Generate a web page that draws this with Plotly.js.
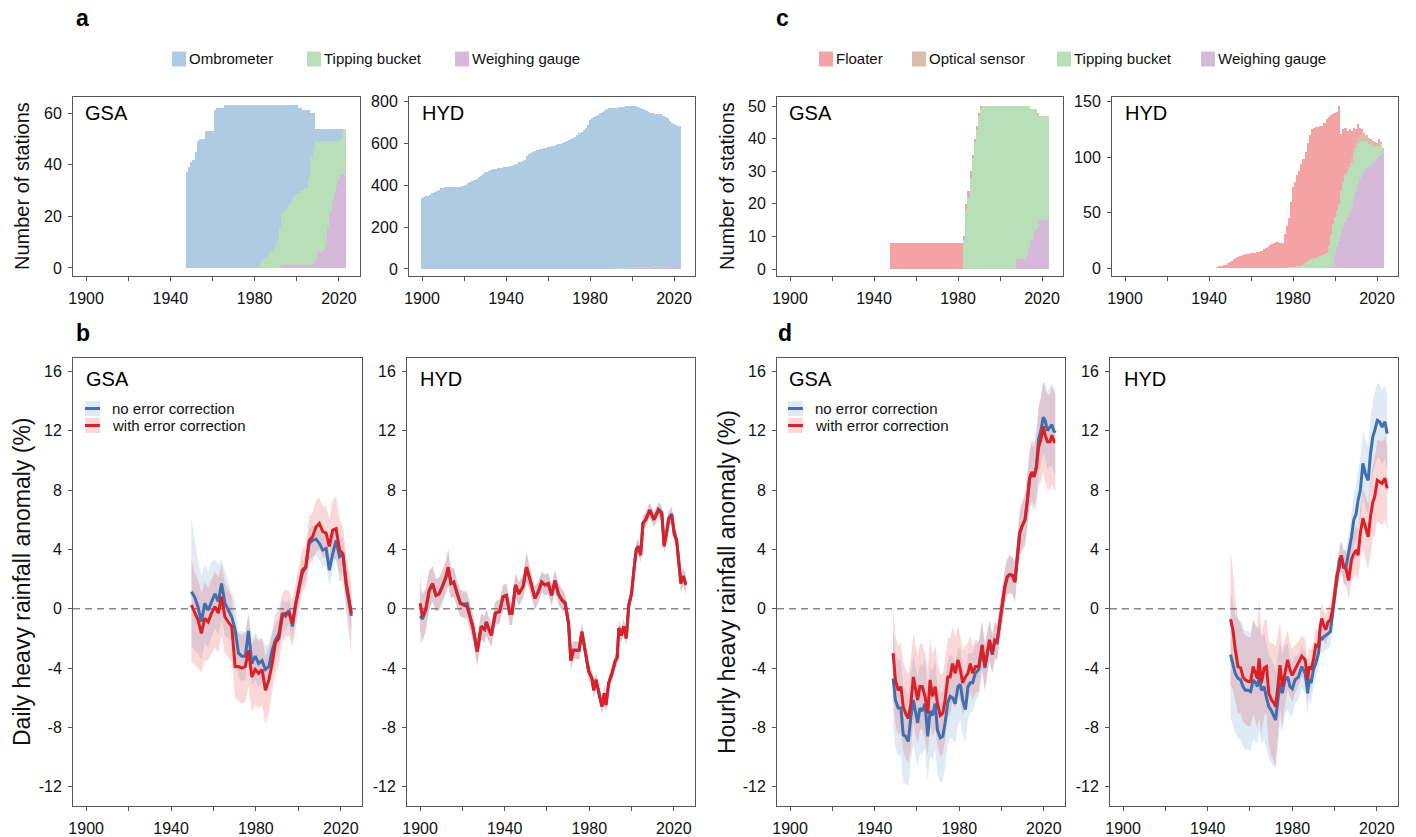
<!DOCTYPE html>
<html><head><meta charset="utf-8">
<script src="https://cdn.plot.ly/plotly-3.0.1.min.js"></script>
<style>html,body{margin:0;padding:0;background:#fff;}#chart{width:1416px;height:837px;}</style>
</head><body><div id="chart"></div>
<script>
// ---------------- DATA: station counts (panels a, c) ----------------
// a GSA (start years given separately)
const aGsaOmbStart = 1948;
const aGsaOmb = [37,39,41,42,45,49,50,50,50,53, 53,53,53,61,62,62,62,62,63,63,
  63,63,63,63,63,63,63,63,63,63, 63,63,63,63,62,61,60,59,59,58,
  57,56,54,52,47,42,41,40,39,38, 36,35,34,33,32,31,30,30,26,17,
  14,5,5,5,5,5,5,5,5,5, 5,5,5,4,0,0];
const aGsaTipStart = 1982;
const aGsaTip = [1,2,3,4,4,5,6,7,9,11, 16,20,21,22,23,24,26,27,28,28,
  29,29,30,30,34,42,44,46,43,43, 43,42,39,33,27,23,20,17,15,14, 18,18];
const aGsaWeighStart = 1993;
const aGsaWeigh = [1,1,1,1,1,1,1,1,1,1,1,1,1,1,1, 2,3,6,6,6,7,10,16,22,26,29,32,34,36,36,36];

// a HYD
const aHydOmbStart = 1900;
const aHydOmb = [340,343,348,350,352,365,368,372,380,386,
  389,390,391,392,392,392,392,393,394,396,
  398,402,410,414,420,426,432,438,445,455,
  462,466,470,474,477,479,482,484,485,487,
  489,490,491,492,495,502,510,514,518,520,
  540,548,556,561,566,570,573,576,578,580,
  582,584,587,590,593,596,600,604,608,612,
  617,622,628,633,640,648,656,665,674,688,
  712,720,726,730,738,743,750,758,763,766,
  766,767,768,769,771,773,774,775,775,776,
  771,771,770,766,762,757,752,748,742,738,
  732,730,729,728,727,722,710,704,692,684,
  676,672,670,668];
const aHydTipStart = 1985;
const aHydTip = [2,2,2,2,2,2,2,2,2,2,2,2,2,2,2, 4,4,4,4,4,4,4,4,4,4,4,4,4,4,4,4,4,4,4,4,4,4,4,4];
const aHydWeighStart = 1990;
const aHydWeigh = [1,1,1,1,1,1,1,1,1,1, 4,4,4,4,4,4,4,4,4,4, 8,8,8,8,8,8, 12,12,12,12,12,12,12,12];

// c GSA
const cGsaFloatStart = 1948;
const cGsaFloat = [8,8,8,8,8,8,8,8,8,8, 8,8,8,8,8,8,8,8,8,8, 8,8,8,8,8,8,8,8,8,8, 8,8,8,8,8, 1,2,2,2,1,1,1,1,1];
const cGsaTipStart = 1983;
const cGsaTip = [9,18,22,28,34,39,43,47,49, 50,50,50,50,50,50,50,50,50,50,50,50,50,50,50,50,
  47,47,47,47,47,46,44,40,38,37, 35,32,32,32,32,32];
const cGsaWeighStart = 2008;
const cGsaWeigh = [3,3,3,3,3,4,6,9,11,12,13,15,15,15,15,15];

// c HYD
const cHydFloatStart = 1944;
const cHydFloat = [1,2,2,3,3,5,6,7,8,9, 10,11,12,13,13,13,14,14,14,15,
  15,16,17,18,19,21,22,23,24,24, 23,23,31,38,44,59,72,77,82,86,
  92,95,99,106,112,117,117,118,117,117, 116,118,120,116,108,99,94,89,88,51,
  46,40,33,30,24,18,11,12,6,4, 2,0,0,1,1,1,1,3,0,0];
const cHydTipStart = 1978;
const cHydTip = [1,1,1,1,2,2,2,3,6,7, 8,8,9,9,10,11,12,13,14,19,
  28,37,34,33,33,39,41,42,42,41, 39,40,39,37,34,31,28,25,20,18, 16,13,11,9,10,3];
const cHydWeighStart = 1997;
const cHydWeigh = [1,2,3,12,19,25,31,37,42,46, 50,56,63,69,75,80,84,87,90,92, 93,94,96,98,101,102,103];
const cHydOptStart = 2004;
const cHydOpt = [1,2,3,4,5,5,6,6,6,6,5,5,5,4,4,4,3,3,2,2];

// ---------------- DATA: anomalies (panels b, d) ----------------
// b GSA daily
const bGsaX = [1949.6,1951.1,1952.7,1954.3,1955.9,1957.5,1959.1,1960.7,1962.3,1963.8,
  1965.4,1967.0,1968.6,1970.2,1971.8,1973.4,1975.0,1976.5,1978.1,1979.7,
  1981.3,1982.9,1984.5,1986.1,1987.7,1989.2,1990.8,1992.4,1994.0,1995.6,
  1997.2,1998.8,2000.4,2001.9,2003.5,2005.1,2006.7,2008.3,2009.9,2011.5,
  2013.1,2014.6,2016.2,2017.8,2019.4,2021.0,2022.6,2025.0];
const bGsaNo = [1.14,0.8,0.13,-0.9,0.36,-0.1,0.47,1.0,0.47,1.7,
  0.36,-0.1,-0.54,-1.4,-3.0,-3.2,-3.2,-1.5,-3.7,-3.2,
  -3.7,-3.5,-4.1,-3.9,-2.8,-2.1,-1.7,-0.3,-0.5,-0.1,
  -1.2,0.36,1.5,2.4,2.8,4.4,4.6,4.7,4.4,3.95,
  4.06,2.6,3.7,4.6,3.5,3.7,1.5,-0.5];
const bGsaWith = [0.25,-0.3,-0.76,-1.66,-0.65,-0.9,-0.3,0.13,-0.3,0.8,
  -0.54,-0.9,-1.2,-3.9,-3.9,-4.0,-3.9,-2.8,-4.6,-4.1,
  -4.35,-4.1,-5.5,-4.8,-3.7,-2.3,-2.0,-0.54,-0.3,-0.3,
  -1.0,0.36,1.5,2.6,2.8,4.6,4.85,5.5,5.75,5.2,
  5.1,4.2,5.3,5.4,3.95,3.7,1.7,-0.3];
const bGsaNoUp = [6.0,4.5,3.2,2.2,3.0,2.5,3.2,3.3,3.0,3.3, 2.5,1.8,1.0,0.5,-1.5,-1.5,-1.6,-0.2,-2.0,-1.6,
  -2.0,-2.0,-2.5,-2.4,-1.5,-1.0,-0.7,0.6,0.4,0.6, -0.4,1.2,2.3,3.2,3.7,5.4,5.6,5.7,5.4,5.0,
  5.1,3.7,4.8,5.7,4.6,4.8,2.6,0.6];
const bGsaNoLo = [-2.5,-2.8,-3.0,-3.5,-2.3,-2.6,-2.0,-1.3,-1.8,-0.6, -1.8,-2.0,-2.2,-3.2,-4.6,-4.9,-4.8,-3.0,-5.2,-4.8,
  -5.3,-5.0,-5.6,-5.4,-4.2,-3.3,-2.8,-1.3,-1.5,-1.0, -2.1,-0.6,0.6,1.5,1.9,3.3,3.5,3.6,3.3,2.8,
  2.9,1.5,2.6,3.4,2.3,2.5,0.3,-1.7];
const bGsaWithUp = [3.3,2.4,2.0,1.0,1.8,1.4,2.0,2.5,2.1,3.0, 1.7,1.2,0.8,-1.4,-1.6,-1.8,-1.6,-0.5,-2.4,-1.9,
  -2.2,-2.0,-3.2,-2.6,-1.6,-0.4,-0.1,1.0,1.3,1.2, 0.6,1.9,3.0,4.0,4.3,6.2,6.5,7.3,7.5,6.9,
  6.9,6.0,7.3,7.6,6.0,5.6,3.5,1.7];
const bGsaWithLo = [-3.6,-3.8,-4.0,-4.3,-3.5,-3.5,-3.0,-2.6,-3.0,-1.8, -3.0,-3.3,-3.6,-6.0,-6.2,-6.4,-6.3,-5.2,-7.0,-6.5,
  -6.7,-6.5,-7.8,-7.0,-5.6,-4.3,-3.8,-2.2,-1.9,-1.8, -2.6,-1.2,0.0,1.2,1.4,3.0,3.2,3.8,4.0,3.5,
  3.4,2.4,3.4,3.3,1.9,1.8,-0.3,-3.0];

// b HYD daily
const bHydX = [1900.0,1901.1,1902.7,1904.3,1905.9,1907.5,1909.0,1910.6,1912.2,1913.3,
  1914.6,1915.9,1917.5,1919.0,1920.6,1922.2,1923.8,1924.9,1927.0,1928.9,
  1930.5,1931.3,1932.9,1933.7,1935.6,1937.6,1939.2,1940.8,1942.4,1943.5,
  1945.1,1946.7,1948.7,1950.3,1951.9,1954.3,1955.9,1957.5,1959.0,1960.6,
  1962.2,1963.8,1965.4,1967.0,1968.6,1970.2,1971.3,1972.5,1974.1,1975.2,
  1976.5,1978.1,1979.7,1981.3,1982.1,1983.2,1984.4,1986.0,1987.1,1987.9,
  1989.2,1990.8,1992.1,1993.2,1994.0,1995.2,1996.3,1997.5,1998.7,2000.0,
  2001.1,2002.2,2003.2,2004.3,2005.4,2006.7,2008.6,2010.6,2012.7,2014.3,
  2015.4,2016.5,2017.5,2019.0,2020.2,2021.3,2022.2,2023.3,2024.4,2025.7];
const bHydNo = [-0.5,-0.7,-0.1,1.2,1.65,0.9,1.0,1.5,2.1,2.75,
  1.7,1.8,1.0,0.4,0.3,0.35,-0.6,-1.2,-2.85,-1.2,
  -1.4,-0.9,-1.5,-1.75,-0.3,-0.2,0.8,0.9,-0.3,-0.3,
  1.6,1.0,1.5,2.8,2.0,0.7,1.15,1.8,1.6,1.7,
  0.9,1.9,1.0,0.6,0.4,-1.0,-3.5,-2.8,-2.8,-2.8,
  -1.55,-3.0,-4.2,-4.7,-5.5,-4.8,-5.5,-6.6,-5.7,-6.5,
  -5.0,-4.35,-3.6,-3.3,-1.3,-1.8,-1.2,-2.0,0.25,1.0,
  2.6,4.0,4.2,3.7,5.8,6.0,6.65,6.0,6.7,6.5,
  4.3,5.1,6.1,6.4,5.1,4.7,3.4,1.8,2.2,1.7];
const bHydWith = [0.36,-0.54,0,1.26,1.7,0.9,1.0,1.5,2.15,2.8,
  1.7,1.8,1.0,0.36,0.25,0.13,-0.65,-1.2,-2.9,-1.2,
  -1.4,-0.9,-1.55,-1.8,-0.3,-0.2,0.8,0.9,-0.3,-0.3,
  1.6,1.0,1.5,2.8,2.0,0.7,1.15,1.8,1.6,1.7,
  0.9,1.9,1.0,0.6,0.36,-1.0,-3.5,-2.8,-2.8,-2.8,
  -1.55,-3.0,-4.2,-4.7,-5.5,-4.8,-5.5,-6.6,-5.7,-6.5,
  -5.0,-4.35,-3.6,-3.3,-1.3,-1.8,-1.2,-2.0,0.25,1.0,
  2.6,3.95,4.2,3.6,5.75,6.0,6.65,6.0,6.65,6.4,
  4.2,5.0,6.0,6.3,5.0,4.6,3.3,1.7,2.15,1.6];
const bHydSpread = [1.8,1.6,1.4,1.3,1.2,1.1,1.1,1.1,1.1,1.2,
  1.0,1.0,0.9,0.9,0.9,0.9,0.9,0.9,1.0,0.9,
  0.9,0.9,0.8,0.8,0.8,0.8,0.8,0.8,0.8,0.8,
  0.8,0.8,0.8,1.0,0.8,0.8,0.7,0.7,0.7,0.7,
  0.7,0.7,0.7,0.7,0.6,0.6,0.6,0.6,0.6,0.6,
  0.6,0.6,0.6,0.5,0.5,0.5,0.5,0.5,0.5,0.5,
  0.5,0.5,0.5,0.5,0.5,0.5,0.5,0.5,0.5,0.5,
  0.5,0.5,0.5,0.5,0.5,0.5,0.5,0.5,0.5,0.5,
  0.5,0.5,0.5,0.5,0.5,0.5,0.6,0.6,0.6,0.7];

// d GSA hourly
const dGsaX = [1948.7,1949.8,1951.1,1952.4,1953.5,1954.6,1955.9,1957.1,1958.3,1959.4,
  1960.3,1961.4,1962.5,1963.8,1965.1,1966.2,1967.3,1968.6,1969.7,1971.0,
  1972.2,1973.3,1974.6,1975.7,1976.8,1978.1,1979.4,1980.5,1981.6,1982.9,
  1984.1,1985.2,1986.3,1987.6,1989.2,1990.8,1992.1,1993.2,1994.3,1995.6,
  1996.8,1997.9,1999.0,2000.3,2001.6,2002.7,2003.8,2005.1,2006.3,2007.5,
  2008.6,2009.8,2011.1,2012.2,2013.3,2014.3,2015.4,2016.5,2017.5,2018.6,
  2019.7,2020.6,2021.7,2022.9,2023.8,2024.9,2025.4];
const dGsaNo = [-4.7,-6.15,-6.7,-6.7,-8.5,-8.6,-8.95,-7.3,-6.15,-7.0,
  -7.7,-6.7,-6.9,-6.4,-8.6,-6.9,-7.2,-6.4,-8.2,-8.7,
  -8.6,-7.7,-6.3,-5.9,-6.0,-6.4,-5.25,-5.1,-6.15,-6.8,
  -5.25,-5.0,-5.0,-4.35,-4.1,-2.6,-4.0,-3.1,-2.2,-3.1,
  -2.2,-2.3,-1.3,0.2,1.5,2.15,2.3,2.25,1.8,3.7,
  5.1,5.6,6.0,7.3,8.8,9.2,8.9,9.6,11.4,12.0,
  12.9,12.7,12.0,12.25,12.4,11.9,12.0];
const dGsaWith = [-3.0,-4.8,-5.5,-5.25,-6.6,-7.05,-7.4,-6.4,-4.6,-5.5,
  -6.15,-5.25,-5.25,-5.9,-7.05,-4.8,-5.9,-5.25,-6.4,-7.2,
  -7.05,-6.15,-4.6,-4.6,-3.7,-4.35,-3.45,-4.1,-5.0,-4.6,
  -4.35,-3.7,-4.35,-3.9,-3.9,-2.45,-3.9,-3.0,-2.1,-3.0,
  -2.1,-2.2,-1.2,0.25,1.5,2.15,2.3,2.25,1.8,3.7,
  5.1,5.6,6.0,7.3,8.8,9.2,8.9,9.55,10.9,11.4,
  12.3,11.7,11.25,11.25,11.7,11.25,11.25];
const dGsaNoSpread = [3.2,3.2,3.2,3.2,3.2,3.2,3.0,3.0,3.0,3.0,
  3.0,3.0,3.0,3.0,3.0,3.0,3.0,3.0,3.0,3.0,
  3.0,3.0,2.8,2.8,2.8,2.6,2.6,2.4,2.4,2.2,
  2.2,2.0,2.0,1.9,1.8,1.7,1.6,1.5,1.4,1.3,
  1.3,1.2,1.2,1.2,1.2,1.2,1.2,1.2,1.3,1.4,
  1.4,1.5,1.6,1.7,1.8,1.9,2.0,2.1,2.2,2.3,
  2.4,2.5,2.6,2.7,2.8,2.9,3.0];
const dGsaWithSpread = [3.0,3.0,3.0,3.0,3.0,3.0,3.0,3.0,3.0,3.0,
  2.9,2.9,2.9,2.9,2.9,2.9,2.8,2.8,2.8,2.8,
  2.7,2.7,2.6,2.6,2.5,2.4,2.3,2.2,2.2,2.1,
  2.0,1.9,1.8,1.8,1.7,1.6,1.5,1.4,1.3,1.3,
  1.2,1.2,1.2,1.2,1.2,1.2,1.3,1.3,1.4,1.5,
  1.6,1.7,1.8,1.9,2.0,2.2,2.3,2.5,2.6,2.8,
  3.0,3.1,3.2,3.2,3.3,3.3,3.3];

// d HYD hourly
const dHydX = [1950.8,1951.9,1953.0,1954.3,1955.6,1956.7,1957.8,1959.1,1960.3,1961.5,
  1962.6,1963.5,1964.3,1965.4,1966.7,1967.8,1968.9,1970.2,1971.5,1972.1,
  1973.0,1974.2,1975.3,1976.5,1977.8,1978.9,1980.0,1981.3,1982.9,1984.5,
  1986.1,1987.3,1987.9,1988.9,1990.0,1991.1,1992.4,1993.2,1994.0,1994.8,
  1995.9,1996.9,1998.0,1999.1,2000.0,2001.1,2002.3,2003.2,2004.3,2005.4,
  2006.7,2008.0,2009.1,2010.2,2011.1,2012.2,2013.4,2014.6,2015.9,2017.0,
  2018.1,2019.0,2020.2,2021.3,2022.5,2023.8,2024.9];
const dHydNo = [-3.1,-3.7,-4.35,-4.7,-4.8,-5.25,-5.5,-5.5,-5.6,-4.8,
  -5.0,-5.25,-4.6,-5.5,-5.25,-6.0,-6.6,-6.9,-7.3,-7.5,
  -6.4,-5.0,-5.7,-4.8,-4.6,-5.25,-5.4,-4.8,-4.6,-3.9,
  -4.35,-5.7,-4.8,-5.0,-4.1,-3.7,-3.0,-1.9,-2.1,-1.9,
  -1.8,-1.66,-1.55,-0.3,0.8,2.15,3.3,3.5,2.8,2.8,
  3.7,4.85,6.0,6.4,7.3,8.0,9.8,9.1,8.65,10.45,
  11.6,12.0,12.7,12.6,12.25,12.6,11.8];
const dHydWith = [-0.7,-1.4,-2.7,-3.9,-4.0,-4.6,-4.8,-4.9,-4.9,-3.9,
  -4.35,-4.7,-3.35,-5.0,-4.0,-3.9,-5.7,-6.15,-6.4,-6.6,
  -5.5,-3.8,-5.25,-4.35,-3.45,-4.1,-4.5,-4.1,-3.7,-3.2,
  -3.45,-4.8,-3.9,-4.1,-3.45,-2.45,-2.55,-1.2,-0.65,-1.1,
  -1.4,-0.9,-0.76,0,1.0,2.25,2.8,3.6,2.8,2.7,
  1.9,3.3,3.7,3.95,3.6,5.1,6.1,5.5,4.85,6.2,
  7.2,7.55,8.65,8.55,8.45,8.8,8.1];
const dHydNoSpread = [4.2,4.2,4.0,4.0,4.0,4.0,4.0,4.0,4.0,4.0,
  4.0,3.8,3.6,3.6,3.6,3.5,3.5,3.5,3.4,3.2,
  3.0,2.8,2.6,2.4,2.2,2.0,1.8,1.6,1.5,1.4,
  1.4,1.4,1.3,1.3,1.2,1.1,1.0,1.0,1.0,1.0,
  1.0,1.0,1.0,1.0,1.0,1.0,1.0,1.0,1.1,1.2,
  1.3,1.5,1.7,1.9,2.0,2.1,2.2,2.3,2.3,2.4,
  2.4,2.5,2.5,2.5,2.5,2.5,2.5];
const dHydWithSpread = [4.5,4.0,3.5,3.2,3.0,3.0,3.0,3.0,3.0,3.2,
  3.2,3.4,4.0,3.4,3.2,3.2,3.5,3.8,4.0,4.0,
  3.5,3.0,2.6,2.2,2.0,1.8,1.8,1.6,1.5,1.4,
  1.4,1.4,1.3,1.3,1.2,1.1,1.0,1.0,1.0,1.0,
  1.0,1.0,1.0,1.0,1.0,1.0,1.0,1.0,1.1,1.2,
  1.3,1.4,1.5,1.6,1.7,1.8,2.0,2.1,2.2,2.4,
  2.5,2.6,2.7,2.8,2.8,2.8,2.8];

// ---------------- labels / ticks ----------------
const xTickVals = [1900,1920,1940,1960,1980,2000,2020];
const xTickText = ['1900','','1940','','1980','','2020'];
const anomTickVals = [-12,-8,-4,0,4,8,12,16];
const anomTickText = ['-12','-8','-4','0','4','8','12','16'];
const legendA = ['Ombrometer','Tipping bucket','Weighing gauge'];
const legendC = ['Floater','Optical sensor','Tipping bucket','Weighing gauge'];
const seriesNames = ['no error correction','with error correction'];

// ---------------- styling ----------------
const W = 1416, H = 837;
const C = {omb:'#afcbe3', tip:'#b8dfb7', weigh:'#d6b8da', flo:'#f4a3a4', opt:'#dbbba9',
  lineBlue:'#3f6fae', lineRed:'#dd1f26', bandBlue:'rgba(55,126,184,0.16)', bandRed:'rgba(228,26,28,0.17)'};
const FONT = '"Liberation Sans", Arial, Helvetica, sans-serif';
const PX = x => x / W, PY = y => 1 - y / H;

function yrs(start, n){ const a=[]; for(let i=0;i<n;i++) a.push(start+i); return a; }

const traces = [];
function bars(start, vals, color, ax){
  traces.push({type:'bar', x: yrs(start, vals.length), y: vals, width: 1,
    marker:{color: color, line:{width:0}}, xaxis:'x'+ax, yaxis:'y'+ax, hoverinfo:'skip', showlegend:false});
}
// panel a
bars(aGsaWeighStart, aGsaWeigh, C.weigh, ''); bars(aGsaTipStart, aGsaTip, C.tip, ''); bars(aGsaOmbStart, aGsaOmb, C.omb, '');
bars(aHydWeighStart, aHydWeigh, C.weigh, '2'); bars(aHydTipStart, aHydTip, C.tip, '2'); bars(aHydOmbStart, aHydOmb, C.omb, '2');
// panel c
bars(cGsaWeighStart, cGsaWeigh, C.weigh, '3'); bars(cGsaTipStart, cGsaTip, C.tip, '3'); bars(cGsaFloatStart, cGsaFloat, C.flo, '3');
bars(cHydWeighStart, cHydWeigh, C.weigh, '4'); bars(cHydTipStart, cHydTip, C.tip, '4'); bars(cHydOptStart, cHydOpt, C.opt, '4'); bars(cHydFloatStart, cHydFloat, C.flo, '4');

function band(xs, lo, hi, color, ax){
  traces.push({type:'scatter', mode:'lines', x: xs.concat(xs.slice().reverse()), y: hi.concat(lo.slice().reverse()),
    fill:'toself', fillcolor: color, line:{width:0}, xaxis:'x'+ax, yaxis:'y'+ax, hoverinfo:'skip', showlegend:false});
}
function line(xs, ys, color, ax){
  traces.push({type:'scatter', mode:'lines', x: xs, y: ys, line:{color: color, width: 3},
    xaxis:'x'+ax, yaxis:'y'+ax, hoverinfo:'skip', showlegend:false});
}
const plus = (v, s) => v.map((d,i)=>d + s[i]);
const minus = (v, s) => v.map((d,i)=>d - s[i]);

band(bGsaX, bGsaNoLo, bGsaNoUp, C.bandBlue, '5');
band(bGsaX, bGsaWithLo, bGsaWithUp, C.bandRed, '5');
line(bGsaX, bGsaNo, C.lineBlue, '5'); line(bGsaX, bGsaWith, C.lineRed, '5');

band(bHydX, minus(bHydNo,bHydSpread), plus(bHydNo,bHydSpread), C.bandBlue, '6');
band(bHydX, minus(bHydWith,bHydSpread), plus(bHydWith,bHydSpread), C.bandRed, '6');
line(bHydX, bHydNo, C.lineBlue, '6'); line(bHydX, bHydWith, C.lineRed, '6');

band(dGsaX, minus(dGsaNo,dGsaNoSpread), plus(dGsaNo,dGsaNoSpread), C.bandBlue, '7');
band(dGsaX, minus(dGsaWith,dGsaWithSpread), plus(dGsaWith,dGsaWithSpread), C.bandRed, '7');
line(dGsaX, dGsaNo, C.lineBlue, '7'); line(dGsaX, dGsaWith, C.lineRed, '7');

band(dHydX, minus(dHydNo,dHydNoSpread), plus(dHydNo,dHydNoSpread), C.bandBlue, '8');
band(dHydX, minus(dHydWith,dHydWithSpread), plus(dHydWith,dHydWithSpread), C.bandRed, '8');
line(dHydX, dHydNo, C.lineBlue, '8'); line(dHydX, dHydWith, C.lineRed, '8');

// ---------------- layout ----------------
const panels = [
  {x:[73,360], y:[97,276], r:[-3.1,66.2], tv:[0,20,40,60]},
  {x:[409,695], y:[97,276], r:[-33.5,822.5], tv:[0,200,400,600,800]},
  {x:[777,1063], y:[97,276], r:[-2.15,52.8], tv:[0,10,20,30,40,50]},
  {x:[1112,1398], y:[97,276], r:[-6.9,154.2], tv:[0,50,100,150]},
  {x:[73,362], y:[358,806], r:[-13.3,16.9], tv:anomTickVals, tt:anomTickText},
  {x:[407,695], y:[358,806], r:[-13.3,16.9], tv:anomTickVals, tt:anomTickText},
  {x:[777,1065], y:[358,806], r:[-13.3,16.9], tv:anomTickVals, tt:anomTickText},
  {x:[1110,1398], y:[358,806], r:[-13.3,16.9], tv:anomTickVals, tt:anomTickText}
];
const layout = {width:W, height:H, margin:{l:0,r:0,t:0,b:0}, paper_bgcolor:'#fff', plot_bgcolor:'#fff',
  showlegend:false, barmode:'stack', bargap:0, font:{family:FONT, color:'#111'},
  annotations:[], shapes:[]};
const axCommon = {showline:true, mirror:true, linecolor:'#555', linewidth:1, ticks:'outside', ticklen:4,
  tickcolor:'#555', tickwidth:1, showgrid:false, zeroline:false, tickfont:{size:16, color:'#111', family:FONT}, fixedrange:true};
panels.forEach((p,i)=>{
  const k = i===0 ? '' : String(i+1);
  layout['xaxis'+k] = Object.assign({}, axCommon, {domain:[PX(p.x[0]),PX(p.x[1])], range:[1893.8,2030],
    tickmode:'array', tickvals:xTickVals, ticktext:xTickText, anchor:'y'+k, ticklabelstandoff:4});
  const ya = Object.assign({}, axCommon, {domain:[PY(p.y[1]),PY(p.y[0])], range:p.r,
    tickmode:'array', tickvals:p.tv, anchor:'x'+k, ticklabelstandoff:3});
  if (p.tt) ya.ticktext = p.tt;
  layout['yaxis'+k] = ya;
  if (i>=4) {
    layout.shapes.push({type:'line', xref:'x'+k+' domain', yref:'y'+k, x0:0, x1:1, y0:0, y1:0,
      line:{color:'#888', width:1.5, dash:'7px,5px'}, layer:'below'});
  }
});

function ann(text, x, y, opts){
  layout.annotations.push(Object.assign({text:text, x:PX(x), y:PY(y), xref:'paper', yref:'paper',
    showarrow:false, xanchor:'left', yanchor:'middle', font:{size:15, family:FONT, color:'#111'}}, opts||{}));
}
// panel letters
ann('<b>a</b>', 74, 18, {font:{size:23, family:FONT, color:'#000'}});
ann('<b>c</b>', 774, 18, {font:{size:23, family:FONT, color:'#000'}});
ann('<b>b</b>', 74, 333, {font:{size:23, family:FONT, color:'#000'}});
ann('<b>d</b>', 776, 333, {font:{size:23, family:FONT, color:'#000'}});
// region names
const nameFont = {size:20, family:FONT, color:'#000'};
ann('GSA', 83, 113, {font:nameFont}); ann('HYD', 420, 113, {font:nameFont});
ann('GSA', 787, 113, {font:nameFont}); ann('HYD', 1123, 113, {font:nameFont});
ann('GSA', 84, 379, {font:nameFont}); ann('HYD', 418, 379, {font:nameFont});
ann('GSA', 787, 379, {font:nameFont}); ann('HYD', 1122, 379, {font:nameFont});
// axis titles
const tFontTop = {size:20, family:FONT, color:'#111'};
const tFontBot = {size:23, family:FONT, color:'#111'};
ann('Number of stations', 22, 186, {textangle:-90, xanchor:'center', font:tFontTop});
ann('Number of stations', 727, 186, {textangle:-90, xanchor:'center', font:tFontTop});
ann('Daily heavy rainfall anomaly (%)', 22, 582, {textangle:-90, xanchor:'center', font:tFontBot});
ann('Hourly heavy rainfall anomaly (%)', 727, 582, {textangle:-90, xanchor:'center', font:tFontBot});

// top legends
function sq(x, y, color){
  layout.shapes.push({type:'rect', xref:'paper', yref:'paper', x0:PX(x), x1:PX(x+14), y0:PY(y+7.5), y1:PY(y-7.5),
    fillcolor:color, line:{width:0}});
}
const legA = [[172, C.omb],[307, C.tip],[455, C.weigh]];
legA.forEach((l,i)=>{ sq(l[0], 59, l[1]); ann(legendA[i], l[0]+15, 59); });
const legC = [[819, C.flo],[912, C.opt],[1057, C.tip],[1201, C.weigh]];
legC.forEach((l,i)=>{ sq(l[0], 59, l[1]); ann(legendC[i], l[0]+15, 59); });

// inset legends (b and d GSA)
function inset(x0, textX){
  const rows = [[408.5, C.bandBlue, C.lineBlue],[425.5, C.bandRed, C.lineRed]];
  rows.forEach((r,i)=>{
    layout.shapes.push({type:'rect', xref:'paper', yref:'paper', x0:PX(x0), x1:PX(x0+15), y0:PY(r[0]+7.5), y1:PY(r[0]-7.5),
      fillcolor:r[1], line:{width:0}});
    layout.shapes.push({type:'line', xref:'paper', yref:'paper', x0:PX(x0), x1:PX(x0+15), y0:PY(r[0]), y1:PY(r[0]),
      line:{color:r[2], width:3}});
    ann(seriesNames[i], textX, r[0]);
  });
}
inset(85, 110);
inset(788, 813);

Plotly.newPlot('chart', traces, layout, {staticPlot:true, displayModeBar:false});
</script></body></html>
